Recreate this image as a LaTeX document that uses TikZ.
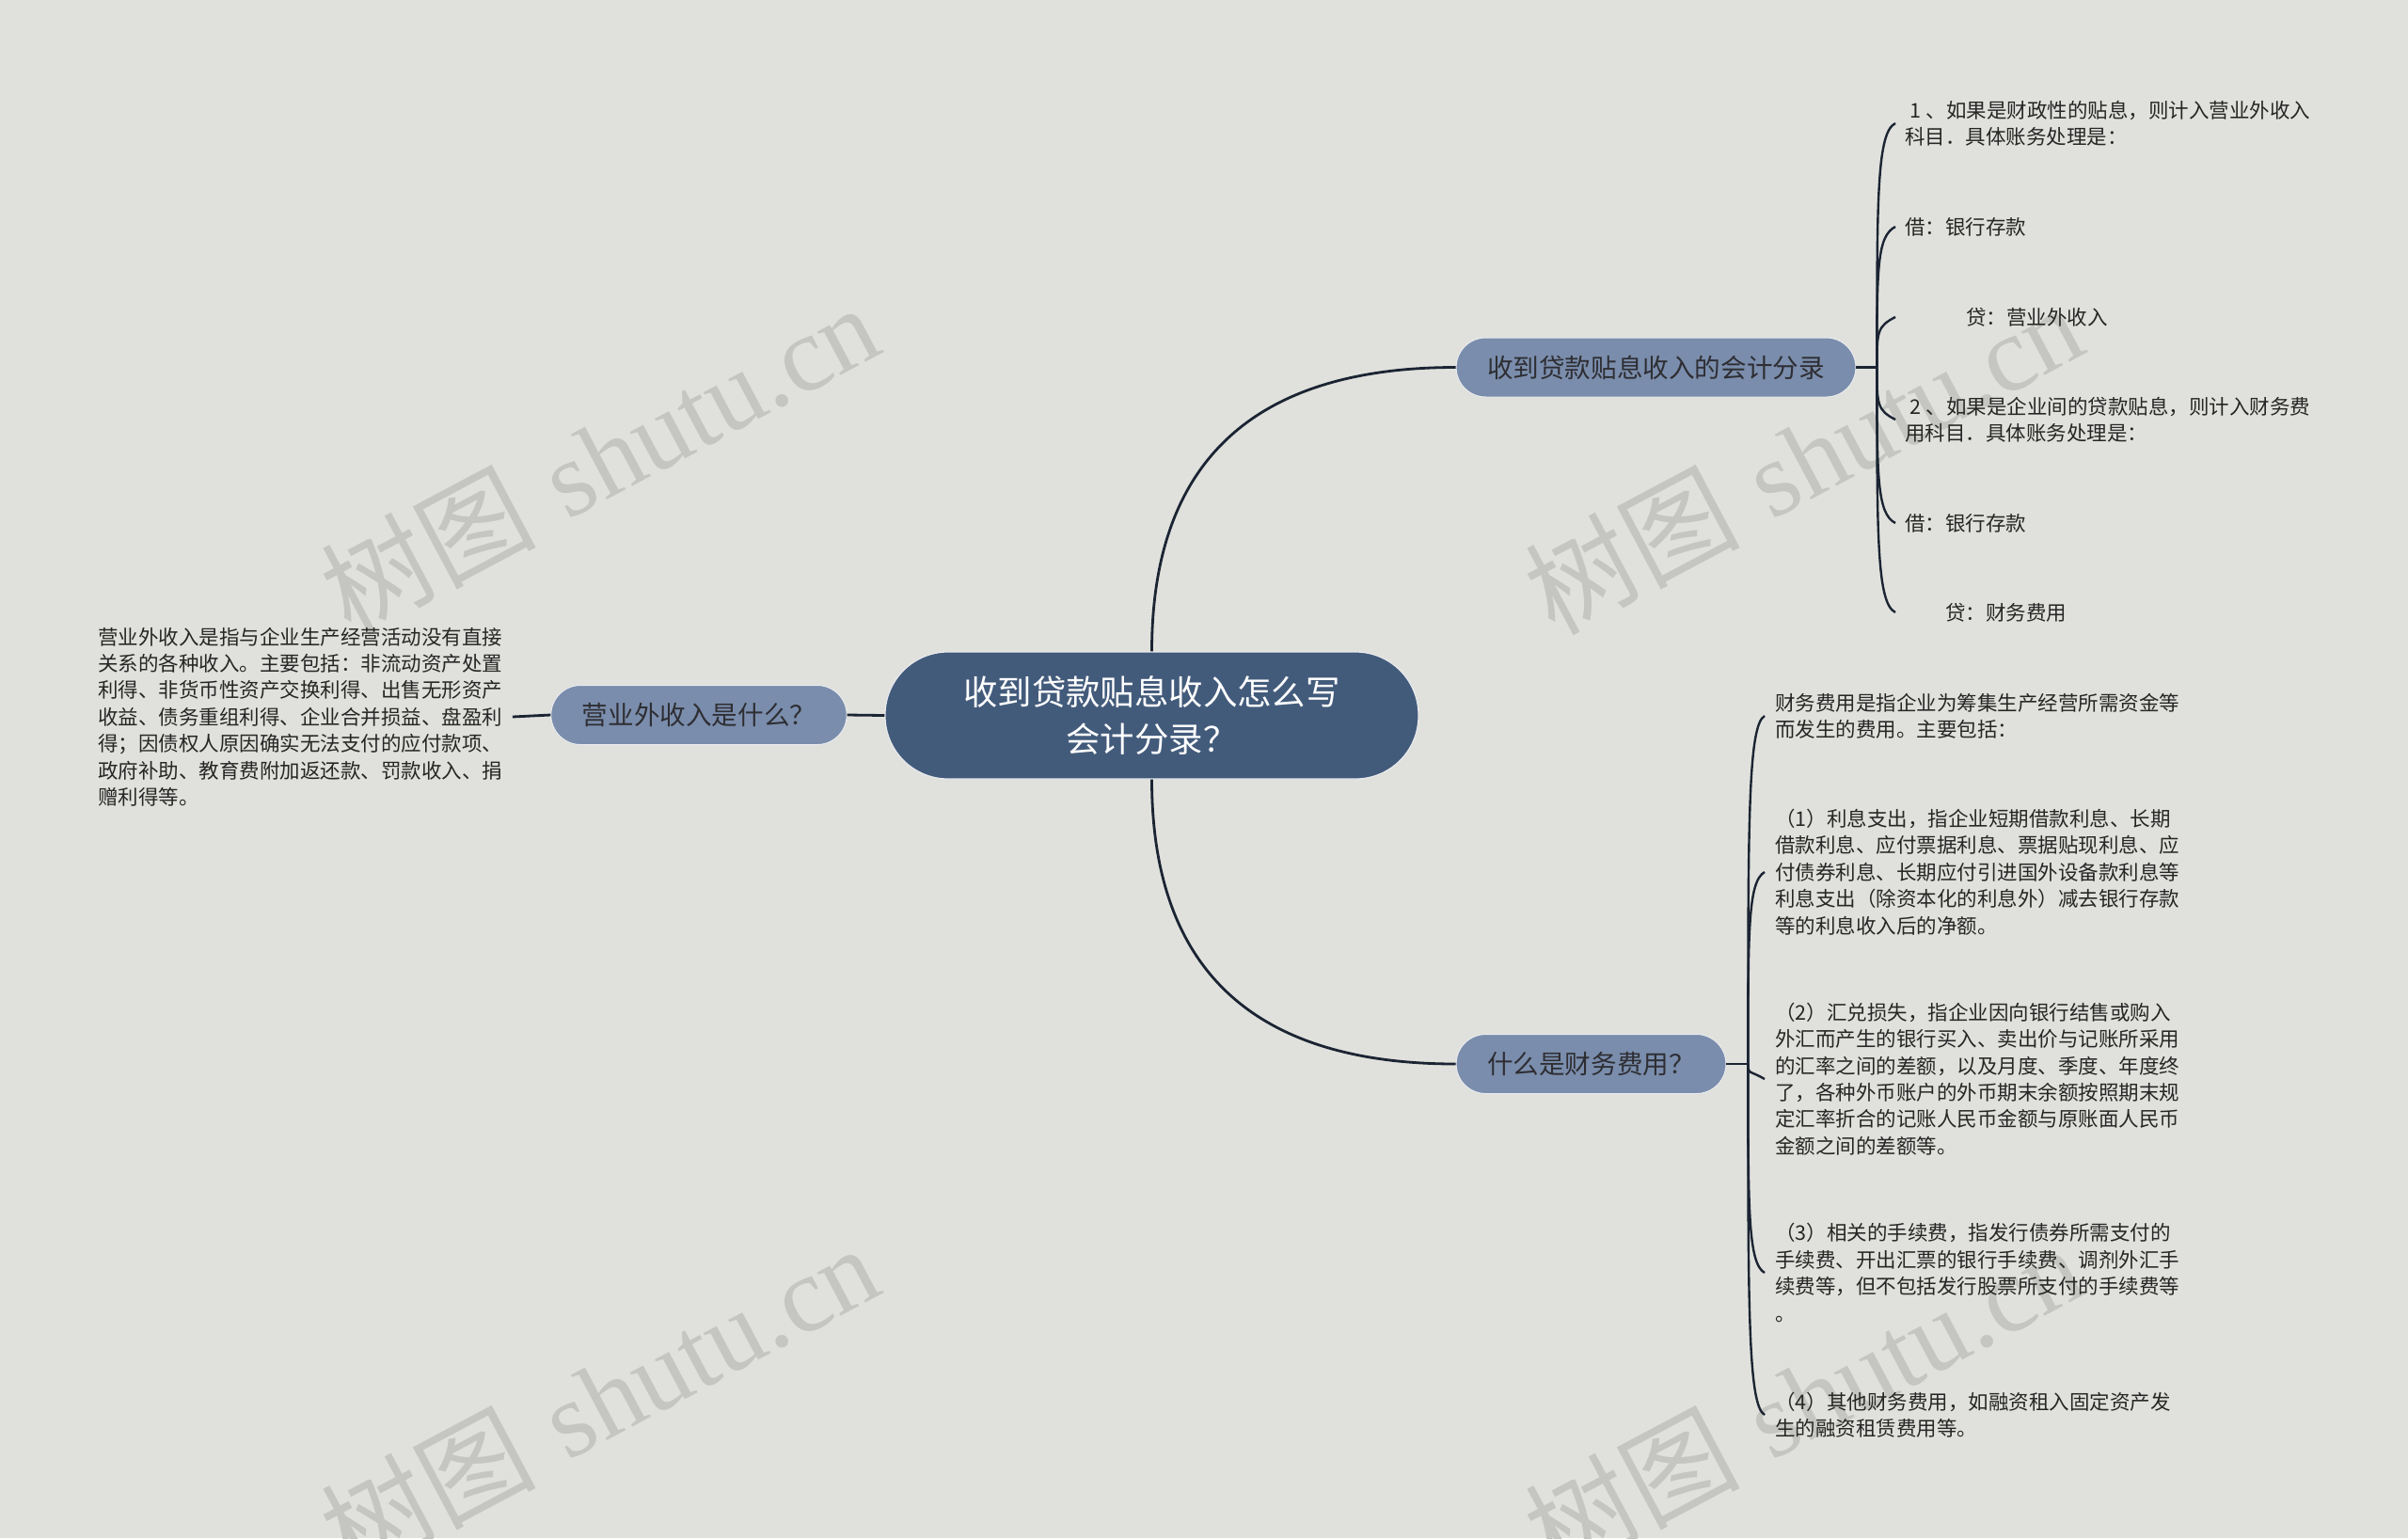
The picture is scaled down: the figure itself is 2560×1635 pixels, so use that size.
\documentclass[tikz,border=0pt]{standalone}
\usepackage{fontspec}
\usetikzlibrary{calc}
\setmainfont{Noto Sans CJK SC}
\newfontfamily\wmlatin{Liberation Serif}
\definecolor{bg}{HTML}{E0E1DC}
\definecolor{cfill}{HTML}{435B7B}
\definecolor{bfill}{HTML}{7A8DAC}
\definecolor{btext}{HTML}{2E2E33}
\definecolor{ltext}{HTML}{262626}
\definecolor{lcol}{HTML}{1B2433}
\definecolor{wmcol}{HTML}{C5C6C1}
\definecolor{edge}{HTML}{E9EBEF}
\tikzset{
  centernode/.style={rectangle, rounded corners=33.5pt, fill=cfill, draw=edge, line width=0.6pt,
    text=white, font=\fontsize{18.2}{25}\selectfont, align=center,
    minimum width=283.5pt, minimum height=67.5pt, inner sep=0pt},
  branch/.style={rectangle, rounded corners=15.7pt, fill=bfill, draw=edge, line width=0.5pt,
    text=btext, font=\fontsize{13.8}{16}\selectfont, inner xsep=16.5pt, inner ysep=0pt,
    minimum height=31.5pt},
  leaf/.style={font=\fontsize{10.75}{14.2}\selectfont, align=left, inner ysep=0pt,
    inner xsep=5pt, text=ltext, anchor=west},
  link/.style={draw=lcol, line width=1.4pt},
  brace/.style={draw=lcol, line width=1.2pt},
  wm/.style={text=wmcol, font=\fontsize{57}{57}\selectfont, anchor=base west, rotate=28, inner sep=0pt}
}
\begin{document}
\begin{tikzpicture}[x=0.5pt,y=-0.5pt]
\useasboundingbox (0,0) rectangle (2560,1635);
\fill[bg] (0,0) rectangle (2560,1635);

% watermarks
\node[wm] (wma) at (372,677) {树图\hspace{0.3em}{\wmlatin shutu.cn}};
\node[wm] (wmb) at (1652,677) {树图\hspace{0.3em}{\wmlatin shutu.cn}};
\node[wm] (wmc) at (372,1677) {树图\hspace{0.3em}{\wmlatin shutu.cn}};
\node[wm] (wmd) at (1652,1677) {树图\hspace{0.3em}{\wmlatin shutu.cn}};

% main nodes
\node[centernode] (c) at (1224.5,760.5) {收到贷款贴息收入怎么写\\会计分录？};
\node[branch] (b1) at (1760.5,390.5) {收到贷款贴息收入的会计分录};
\node[branch] (b2) at (1691.5,1131) {什么是财务费用？};
\node[branch] (b3) at (743,760) {营业外收入是什么？};

% left text
\node[leaf] (lt) at (94,762) {营业外收入是指与企业生产经营活动没有直接\\关系的各种收入。主要包括：非流动资产处置\\利得、非货币性资产交换利得、出售无形资产\\收益、债务重组利得、企业合并损益、盘盈利\\得；因债权人原因确实无法支付的应付款项、\\政府补助、教育费附加返还款、罚款收入、捐\\赠利得等。};

% upper right leaves
\node[leaf] (l1) at (2015,131) {\hspace*{0.25em}1 、如果是财政性的贴息，则计入营业外收入\\科目．具体账务处理是：};
\node[leaf] (l2) at (2015,241) {借：银行存款};
\node[leaf] (l3) at (2015,337) {\hspace*{32.5pt}贷：营业外收入};
\node[leaf] (l4) at (2015,446) {\hspace*{0.25em}2 、如果是企业间的贷款贴息，则计入财务费\\用科目．具体账务处理是：};
\node[leaf] (l5) at (2015,556) {借：银行存款};
\node[leaf] (l6) at (2015,651) {\hspace*{21.5pt}贷：财务费用};

% lower right leaves
\node[leaf, inner xsep=5.5pt] (m1) at (1876,761) {财务费用是指企业为筹集生产经营所需资金等\\而发生的费用。主要包括：};
\node[leaf, inner xsep=5.5pt] (m2) at (1876,927) {（1）利息支出，指企业短期借款利息、长期\\借款利息、应付票据利息、票据贴现利息、应\\付债券利息、长期应付引进国外设备款利息等\\利息支出（除资本化的利息外）减去银行存款\\等的利息收入后的净额。};
\node[leaf, inner xsep=5.5pt] (m3) at (1876,1147) {（2）汇兑损失，指企业因向银行结售或购入\\外汇而产生的银行买入、卖出价与记账所采用\\的汇率之间的差额，以及月度、季度、年度终\\了，各种外币账户的外币期末余额按照期末规\\定汇率折合的记账人民币金额与原账面人民币\\金额之间的差额等。};
\node[leaf, inner xsep=5.5pt] (m4) at (1876,1353) {（3）相关的手续费，指发行债券所需支付的\\手续费、开出汇票的银行手续费、调剂外汇手\\续费等，但不包括发行股票所支付的手续费等\\。};
\node[leaf, inner xsep=5.5pt] (m5) at (1876,1504) {（4）其他财务费用，如融资租入固定资产发\\生的融资租赁费用等。};

% connectors (quadratic-like curves)
\coordinate (k1) at (c.north |- b1.west);
\coordinate (k2) at (c.south |- b2.west);
\draw[link] (c.north) .. controls ($(c.north)!0.667!(k1)$) and ($(b1.west)!0.667!(k1)$) .. (b1.west);
\draw[link] (c.south) .. controls ($(c.south)!0.667!(k2)$) and ($(b2.west)!0.667!(k2)$) .. (b2.west);
\draw[link] (c.west) -- (b3.east);
\draw[link] (b3.west) -- (lt.east);

\coordinate (j1) at ([xshift=11pt]b1.east);
\coordinate (j2) at ([xshift=11.5pt]b2.east);
\draw[link] (b1.east) -- (j1);
\draw[link] (b2.east) -- (j2);
\foreach \n in {l1,l2,l3,l4,l5,l6}
  \draw[brace] (j1) .. controls ($(j1)!0.7!(j1 |- \n.west)$) and ($(j1 |- \n.west)!5pt!(j1)$) .. (\n.west);
\foreach \n in {m1,m2,m3,m4,m5}
  \draw[brace] (j2) .. controls ($(j2)!0.7!(j2 |- \n.west)$) and ($(j2 |- \n.west)!5pt!(j2)$) .. (\n.west);
\end{tikzpicture}
\end{document}
